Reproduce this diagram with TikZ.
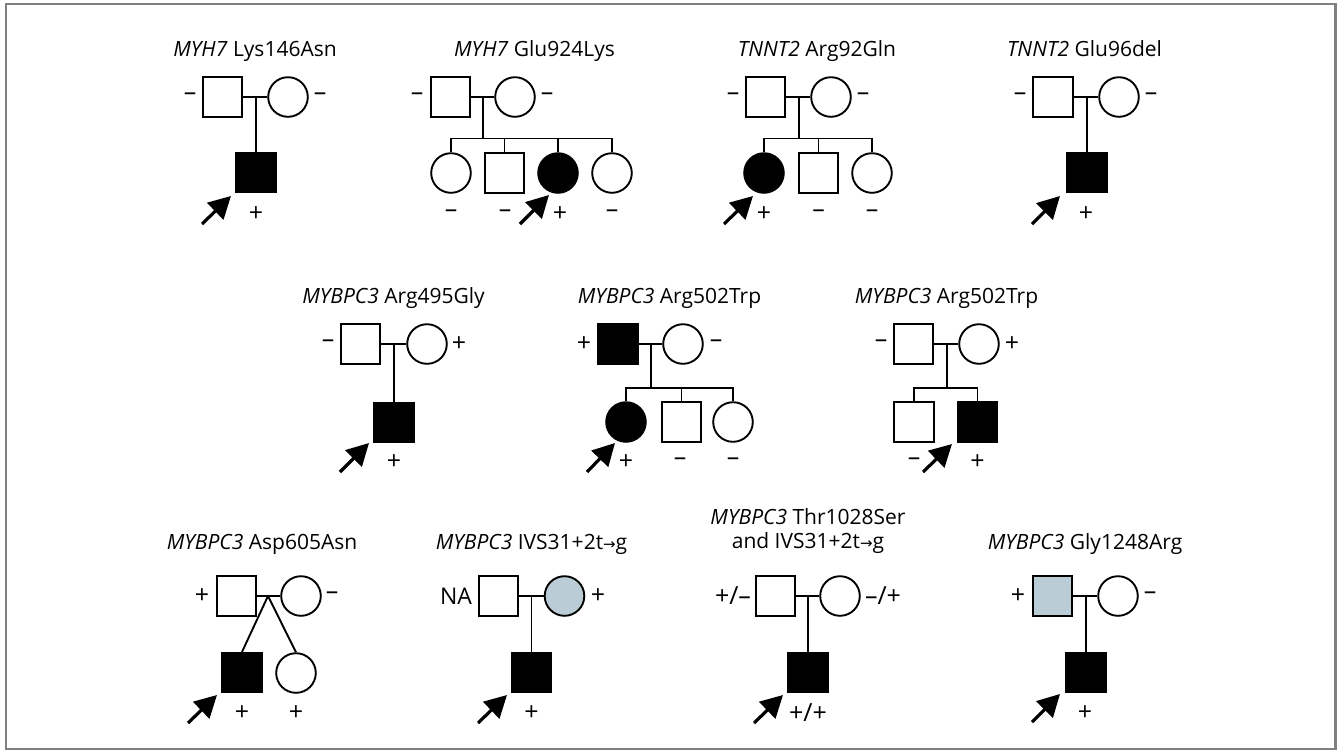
\documentclass[tikz,border=0pt]{standalone}
\usepackage{fontspec}
\setmainfont{Open Sans}
\newfontfamily\arrfont{DejaVu Sans}
\usetikzlibrary{arrows.meta}
\definecolor{pblue}{RGB}{186,205,214}
\definecolor{framegray}{RGB}{128,128,128}
\newcommand{\ra}{{\arrfont\fontsize{7.5}{8}\selectfont →}}
\begin{document}
\begin{tikzpicture}[x=0.5pt,y=-0.5pt,
  ind/.style={draw, line width=0.95pt, minimum size=19.6pt, inner sep=0pt},
  male/.style={ind, rectangle},
  fem/.style={ind, circle, minimum size=19.8pt},
  aff/.style={fill=black},
  car/.style={fill=pblue},
  rel/.style={line width=0.95pt},
  lbl/.style={font=\fontsize{12.5}{14}\selectfont, inner sep=0pt},
  ttl/.style={font=\fontsize{10.5}{12}\selectfont, inner sep=0pt, anchor=base},
  proband/.style={line width=1.6pt, -{Triangle[length=11pt,width=11.5pt]}},
]
\useasboundingbox (0,0) rectangle (1341,751);
\draw[framegray, line width=1.3pt] (6,4) rectangle (1335.5,749);

% ---------- Pedigree 1
\node[ttl] (t1) at (255,56) {\textit{MYH7} Lys146Asn};
\node[male] (p1f) at (222.5,97) {};
\node[fem] (p1m) at (288,97) {};
\coordinate (p1j) at (256,97);
\node[male,aff] (p1c) at (256,172.5) {};
\draw[rel] (p1f) -- (p1m);
\draw[rel] (p1j) -- (p1c.north);
\node[lbl] (p1l1) at (190,97) {–};
\node[lbl] (p1l2) at (320,97) {–};
\node[lbl] (p1l3) at (256,214) {+};
\coordinate (p1s) at (202,224); \coordinate (p1e) at (231,196);
\draw[proband] (p1s) -- (p1e);

% ---------- Pedigree 2
\node[ttl] (t2) at (534.5,56) {\textit{MYH7} Glu924Lys};
\node[male] (p2f) at (450.5,97) {};
\node[fem] (p2m) at (515,97) {};
\coordinate (p2j) at (483,97);
\coordinate (p2s) at (483,138.5);
\node[fem] (p2c1) at (451,173) {};
\node[male] (p2c2) at (504.5,173) {};
\node[fem,aff] (p2c3) at (558,173) {};
\node[fem] (p2c4) at (612,173) {};
\draw[rel] (p2f) -- (p2m);
\draw[rel] (p2j) -- (p2s);
\draw[rel] (p2c1.north) -- (p2c1.north |- p2s) -- (p2c4.north |- p2s) -- (p2c4.north);
\draw[rel] (p2c2.north) -- (p2c2.north |- p2s);
\draw[rel] (p2c3.north) -- (p2c3.north |- p2s);
\node[lbl] (p2l1) at (417,97) {–};
\node[lbl] (p2l2) at (547,97) {–};
\node[lbl] (p2l3) at (451,214) {–};
\node[lbl] (p2l4) at (505,214) {–};
\node[lbl] (p2l5) at (560,214) {+};
\node[lbl] (p2l6) at (612,214) {–};
\coordinate (p2as) at (520,224); \coordinate (p2ae) at (549,195);
\draw[proband] (p2as) -- (p2ae);

% ---------- Pedigree 3
\node[ttl] (t3) at (817,56) {\textit{TNNT2} Arg92Gln};
\node[male] (p3f) at (765.5,97) {};
\node[fem] (p3m) at (831,97) {};
\coordinate (p3j) at (799,97);
\coordinate (p3s) at (799,138.5);
\node[fem,aff] (p3c1) at (764,173) {};
\node[male] (p3c2) at (818.5,173) {};
\node[fem] (p3c3) at (872,173) {};
\draw[rel] (p3f) -- (p3m);
\draw[rel] (p3j) -- (p3s);
\draw[rel] (p3c1.north) -- (p3c1.north |- p3s) -- (p3c3.north |- p3s) -- (p3c3.north);
\draw[rel] (p3c2.north) -- (p3c2.north |- p3s);
\node[lbl] (p3l1) at (733,97) {–};
\node[lbl] (p3l2) at (863,97) {–};
\node[lbl] (p3l3) at (764,214) {+};
\node[lbl] (p3l4) at (818.5,214) {–};
\node[lbl] (p3l5) at (872,214) {–};
\coordinate (p3as) at (724,224); \coordinate (p3ae) at (753,196);
\draw[proband] (p3as) -- (p3ae);

% ---------- Pedigree 4
\node[ttl] (t4) at (1084.5,56) {\textit{TNNT2} Glu96del};
\node[male] (p4f) at (1053,97) {};
\node[fem] (p4m) at (1119,97) {};
\coordinate (p4j) at (1087,97);
\node[male,aff] (p4c) at (1087,172.5) {};
\draw[rel] (p4f) -- (p4m);
\draw[rel] (p4j) -- (p4c.north);
\node[lbl] (p4l1) at (1020,97) {–};
\node[lbl] (p4l2) at (1151,97) {–};
\node[lbl] (p4l3) at (1086,214) {+};
\coordinate (p4as) at (1032,224); \coordinate (p4ae) at (1060,196);
\draw[proband] (p4as) -- (p4ae);

% ---------- Pedigree 5
\node[ttl] (t5) at (393.5,303) {\textit{MYBPC3} Arg495Gly};
\node[male] (p5f) at (360.5,344) {};
\node[fem] (p5m) at (427,344) {};
\coordinate (p5j) at (394,344);
\node[male,aff] (p5c) at (394,422.5) {};
\draw[rel] (p5f) -- (p5m);
\draw[rel] (p5j) -- (p5c.north);
\node[lbl] (p5l1) at (328,344) {–};
\node[lbl] (p5l2) at (459,344) {+};
\node[lbl] (p5l3) at (394,462) {+};
\coordinate (p5as) at (340,472); \coordinate (p5ae) at (369,443);
\draw[proband] (p5as) -- (p5ae);

% ---------- Pedigree 6
\node[ttl] (t6) at (669.5,303) {\textit{MYBPC3} Arg502Trp};
\node[male,aff] (p6f) at (618,344) {};
\node[fem] (p6m) at (683,344) {};
\coordinate (p6j) at (651,344);
\coordinate (p6s) at (651,388);
\node[fem,aff] (p6c1) at (626,422) {};
\node[male] (p6c2) at (681.5,422) {};
\node[fem] (p6c3) at (733,422) {};
\draw[rel] (p6f) -- (p6m);
\draw[rel] (p6j) -- (p6s);
\draw[rel] (p6c1.north) -- (p6c1.north |- p6s) -- (p6c3.north |- p6s) -- (p6c3.north);
\draw[rel] (p6c2.north) -- (p6c2.north |- p6s);
\node[lbl] (p6l1) at (584,344) {+};
\node[lbl] (p6l2) at (716,344) {–};
\node[lbl] (p6l3) at (626,462) {+};
\node[lbl] (p6l4) at (680,462) {–};
\node[lbl] (p6l5) at (733,462) {–};
\coordinate (p6as) at (587,472); \coordinate (p6ae) at (615,443);
\draw[proband] (p6as) -- (p6ae);

% ---------- Pedigree 7
\node[ttl] (t7) at (946.5,303) {\textit{MYBPC3} Arg502Trp};
\node[male] (p7f) at (913.5,344) {};
\node[fem] (p7m) at (979,344) {};
\coordinate (p7j) at (947,344);
\coordinate (p7s) at (947,388);
\node[male] (p7c1) at (914,422) {};
\node[male,aff] (p7c2) at (977.5,422) {};
\draw[rel] (p7f) -- (p7m);
\draw[rel] (p7j) -- (p7s);
\draw[rel] (p7c1.north) -- (p7c1.north |- p7s) -- (p7c2.north |- p7s) -- (p7c2.north);
\node[lbl] (p7l1) at (881,344) {–};
\node[lbl] (p7l2) at (1012,344) {+};
\node[lbl] (p7l3) at (914,462) {–};
\node[lbl] (p7l4) at (977.5,462) {+};
\coordinate (p7as) at (923,472); \coordinate (p7ae) at (952,444);
\draw[proband] (p7as) -- (p7ae);

% ---------- Pedigree 8
\node[ttl] (t8) at (262,549) {\textit{MYBPC3} Asp605Asn};
\node[male] (p8f) at (236.5,596) {};
\node[fem] (p8m) at (301,596) {};
\coordinate (p8j) at (268,596);
\node[male,aff] (p8c1) at (242,672.5) {};
\node[fem] (p8c2) at (296,673) {};
\draw[rel] (p8f) -- (p8m);
\draw[rel] (p8j) -- (p8c1.north);
\draw[rel] (p8j) -- (p8c2.north);
\node[lbl] (p8l1) at (202,596) {+};
\node[lbl] (p8l2) at (332,596) {–};
\node[lbl] (p8l3) at (242,713) {+};
\node[lbl] (p8l4) at (296,713) {+};
\coordinate (p8as) at (188,723); \coordinate (p8ae) at (217,695);
\draw[proband] (p8as) -- (p8ae);

% ---------- Pedigree 9
\node[ttl] (t9) at (531.5,549) {\textit{MYBPC3} IVS31+2t\ra g};
\node[male] (p9f) at (498.5,596) {};
\node[fem,car] (p9m) at (564.5,596) {};
\coordinate (p9j) at (531.5,596);
\node[male,aff] (p9c) at (531.5,672.5) {};
\draw[rel] (p9f) -- (p9m);
\draw[rel] (p9j) -- (p9c.north);
\node[lbl,font=\fontsize{11.5}{13}\selectfont] (p9l1) at (456,596) {NA};
\node[lbl] (p9l2) at (598,596) {+};
\node[lbl] (p9l3) at (531.5,713) {+};
\coordinate (p9as) at (478,723); \coordinate (p9ae) at (507,695);
\draw[proband] (p9as) -- (p9ae);

% ---------- Pedigree 10
\node[ttl] (t10a) at (808,524) {\textit{MYBPC3} Thr1028Ser};
\node[ttl] (t10b) at (808,548) {and IVS31+2t\ra g};
\node[male] (p10f) at (775.5,596) {};
\node[fem] (p10m) at (840,596) {};
\coordinate (p10j) at (808,596);
\node[male,aff] (p10c) at (808,672.5) {};
\draw[rel] (p10f) -- (p10m);
\draw[rel] (p10j) -- (p10c.north);
\node[lbl] (p10l1) at (733,596) {+/–};
\node[lbl] (p10l2) at (883,596) {–/+};
\node[lbl] (p10l3) at (808,713) {+/+};
\coordinate (p10as) at (754,723); \coordinate (p10ae) at (783,695);
\draw[proband] (p10as) -- (p10ae);

% ---------- Pedigree 11
\node[ttl] (t11) at (1085,549) {\textit{MYBPC3} Gly1248Arg};
\node[male,car] (p11f) at (1052.5,596) {};
\node[fem] (p11m) at (1118,596) {};
\coordinate (p11j) at (1086,596);
\node[male,aff] (p11c) at (1086,672.5) {};
\draw[rel] (p11f) -- (p11m);
\draw[rel] (p11j) -- (p11c.north);
\node[lbl] (p11l1) at (1018,596) {+};
\node[lbl] (p11l2) at (1150,596) {–};
\node[lbl] (p11l3) at (1085,713) {+};
\coordinate (p11as) at (1032,722); \coordinate (p11ae) at (1060,694);
\draw[proband] (p11as) -- (p11ae);
\end{tikzpicture}
\end{document}
